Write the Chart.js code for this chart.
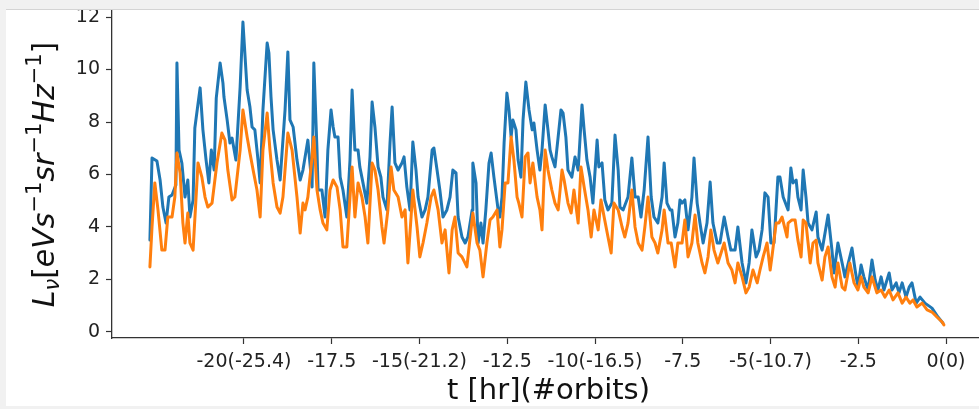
<!DOCTYPE html>
<html>
<head>
<meta charset="utf-8">
<title>Luminosity vs time</title>
<script src="https://cdn.jsdelivr.net/npm/chart.js@4.4.1/dist/chart.umd.min.js"></script>
<style>
  html, body { margin: 0; padding: 0; background: #ffffff; width: 979px; height: 409px; overflow: hidden; }
  #wrap { position: relative; width: 979px; height: 409px; overflow: hidden; }
  #plot { position: absolute; left: 0; top: 0; }
  .frame { position: absolute; background: #f1f1f1; z-index: 2; }
  #frame-top { left: 0; top: 0; width: 979px; height: 10px; border-bottom: 1px solid #d4d4d4; box-sizing: border-box; }
  #frame-left { left: 0; top: 0; width: 6px; height: 409px; }
  #frame-bottom { left: 0; top: 406px; width: 979px; height: 3px; }
</style>
</head>
<body>
<div id="wrap">
  <canvas id="plot" width="990" height="409"></canvas>
  <div class="frame" id="frame-top"></div>
  <div class="frame" id="frame-left"></div>
  <div class="frame" id="frame-bottom"></div>
</div>
<script>
// Time before merger [hr] and specific luminosity, upper (blue) curve.
const blueTime = [
  -22.68, -22.62, -22.48, -22.39, -22.31, -22.22, -22.14, -22.05, -21.94, -21.91,
  -21.85, -21.77, -21.68, -21.60, -21.54, -21.45, -21.40, -21.25, -21.17, -21.08,
  -21.00, -20.93, -20.85, -20.79, -20.68, -20.60, -20.57, -20.48, -20.40, -20.34,
  -20.23, -20.11, -20.03, -19.91, -19.83, -19.77, -19.69, -19.60, -19.54, -19.46,
  -19.34, -19.29, -19.23, -19.17, -19.06, -18.97, -18.83, -18.75, -18.69, -18.60,
  -18.49, -18.40, -18.32, -18.18, -18.06, -18.01, -17.92, -17.89, -17.78, -17.69,
  -17.61, -17.52, -17.46, -17.41, -17.32, -17.26, -17.18, -17.07, -16.98, -16.92,
  -16.84, -16.75, -16.70, -16.61, -16.50, -16.41, -16.35, -16.27, -16.18, -16.10,
  -16.04, -15.93, -15.84, -15.78, -15.70, -15.61, -15.50, -15.44, -15.36, -15.27,
  -15.19, -15.10, -15.04, -14.93, -14.84, -14.76, -14.64, -14.59, -14.50, -14.42,
  -14.33, -14.22, -14.13, -14.05, -13.96, -13.90, -13.79, -13.70, -13.62, -13.50,
  -13.48, -13.39, -13.33, -13.25, -13.19, -13.11, -13.02, -12.96, -12.88, -12.76,
  -12.71, -12.65, -12.59, -12.51, -12.45, -12.39, -12.34, -12.25, -12.19, -12.11,
  -12.05, -11.97, -11.88, -11.79, -11.74, -11.65, -11.57, -11.51, -11.42, -11.34,
  -11.28, -11.23, -11.14, -11.05, -10.97, -10.91, -10.83, -10.77, -10.66, -10.57,
  -10.48, -10.37, -10.31, -10.23, -10.14, -10.06, -9.94, -9.89, -9.80, -9.72,
  -9.63, -9.52, -9.43, -9.34, -9.29, -9.20, -9.06, -8.95, -8.86, -8.77,
  -8.69, -8.60, -8.49, -8.40, -8.32, -8.21, -8.09, -8.03, -7.95, -7.86,
  -7.81, -7.72, -7.64, -7.58, -7.52, -7.44, -7.35, -7.24, -7.18, -7.09,
  -7.01, -6.92, -6.81, -6.72, -6.64, -6.52, -6.44, -6.32, -6.21, -6.13,
  -6.01, -5.93, -5.81, -5.70, -5.61, -5.53, -5.41, -5.33, -5.24, -5.16,
  -5.07, -4.99, -4.90, -4.79, -4.73, -4.64, -4.50, -4.42, -4.36, -4.27,
  -4.22, -4.13, -4.07, -3.99, -3.93, -3.82, -3.70, -3.65, -3.53, -3.36,
  -3.25, -3.19, -3.08, -2.96, -2.88, -2.68, -2.59, -2.51, -2.42, -2.34,
  -2.22, -2.11, -2.02, -1.94, -1.85, -1.77, -1.62, -1.54, -1.42, -1.34,
  -1.25, -1.14, -1.05, -0.97, -0.85, -0.74, -0.60, -0.40, -0.23, -0.09
];
const blueLum = [
  3.50, 6.63, 6.51, 5.79, 4.76, 4.15, 5.14, 5.22, 5.60, 10.25,
  6.93, 6.44, 5.14, 5.79, 4.38, 5.03, 7.77, 9.30, 7.70, 6.55,
  5.68, 6.93, 6.17, 8.91, 10.25, 9.49, 8.95, 8.08, 7.20, 7.39,
  6.55, 9.33, 11.81, 9.22, 8.57, 7.81, 7.70, 6.55, 5.68, 8.46,
  11.01, 10.63, 8.95, 7.70, 6.55, 5.79, 8.46, 10.67, 8.08, 7.81,
  6.55, 5.79, 6.17, 7.31, 5.52, 10.25, 6.93, 5.41, 5.41, 4.38,
  6.93, 8.46, 7.81, 7.43, 7.43, 5.90, 5.41, 4.38, 6.55, 9.22,
  6.93, 6.93, 6.29, 5.68, 4.91, 6.67, 8.76, 7.81, 6.29, 5.90,
  5.14, 4.65, 7.20, 8.57, 6.44, 6.17, 6.44, 6.67, 5.52, 4.65,
  7.24, 6.17, 5.14, 4.38, 4.65, 5.14, 6.93, 7.01, 6.17, 5.41,
  4.38, 4.65, 5.14, 6.17, 6.06, 4.38, 3.62, 3.39, 3.62, 4.65,
  6.44, 5.68, 3.39, 4.15, 3.39, 4.65, 6.44, 6.82, 5.90, 4.65,
  4.38, 5.14, 7.20, 9.10, 8.46, 7.43, 8.08, 7.70, 6.55, 5.90,
  8.08, 9.52, 8.46, 7.70, 7.96, 6.93, 6.17, 6.93, 8.65, 7.70,
  6.93, 6.67, 6.29, 7.43, 8.46, 8.34, 7.43, 6.17, 5.90, 6.67,
  6.17, 8.65, 7.70, 6.55, 5.90, 4.91, 7.31, 6.29, 6.44, 5.03,
  4.65, 4.91, 7.50, 6.17, 4.76, 4.65, 5.14, 6.63, 5.14, 5.14,
  4.38, 5.41, 7.43, 5.14, 4.38, 4.15, 5.14, 6.44, 4.91, 4.65,
  4.65, 3.62, 4.15, 5.03, 4.91, 5.03, 3.89, 5.14, 6.63, 4.91,
  4.15, 3.39, 4.15, 5.71, 4.15, 3.39, 3.39, 4.38, 3.62, 3.12,
  3.12, 4.00, 2.63, 1.87, 2.63, 3.89, 2.86, 3.12, 3.89, 5.30,
  5.14, 3.39, 3.39, 5.90, 5.90, 5.14, 4.65, 6.25, 5.68, 5.79,
  5.14, 4.65, 6.17, 5.14, 4.15, 3.89, 4.57, 3.62, 3.12, 4.46,
  3.12, 2.25, 3.39, 2.63, 2.10, 3.20, 2.36, 1.71, 2.55, 2.10,
  1.60, 2.74, 1.98, 1.60, 2.10, 1.60, 2.25, 1.60, 1.87, 1.49,
  1.87, 1.33, 1.71, 1.87, 1.10, 1.33, 1.10, 0.91, 0.57, 0.34
];

// Lower (orange) curve.
const orangeTime = [
  -22.68, -22.62, -22.54, -22.45, -22.34, -22.25, -22.17, -22.05, -21.97, -21.91,
  -21.82, -21.74, -21.68, -21.60, -21.54, -21.45, -21.31, -21.20, -21.11, -21.03,
  -20.91, -20.77, -20.63, -20.54, -20.46, -20.34, -20.26, -20.11, -20.03, -19.91,
  -19.83, -19.74, -19.63, -19.54, -19.46, -19.34, -19.26, -19.17, -19.06, -18.97,
  -18.89, -18.75, -18.63, -18.49, -18.40, -18.32, -18.26, -18.18, -18.06, -18.01,
  -17.92, -17.83, -17.75, -17.64, -17.55, -17.46, -17.35, -17.26, -17.18, -17.07,
  -16.98, -16.92, -16.84, -16.75, -16.64, -16.55, -16.47, -16.35, -16.27, -16.18,
  -16.07, -16.01, -15.90, -15.81, -15.73, -15.61, -15.50, -15.41, -15.33, -15.24,
  -15.19, -15.07, -14.99, -14.90, -14.79, -14.67, -14.59, -14.47, -14.36, -14.27,
  -14.16, -14.07, -13.99, -13.90, -13.79, -13.65, -13.48, -13.36, -13.28, -13.19,
  -13.08, -12.99, -12.91, -12.79, -12.71, -12.65, -12.56, -12.48, -12.39, -12.31,
  -12.22, -12.17, -12.08, -11.99, -11.91, -11.85, -11.77, -11.65, -11.57, -11.51,
  -11.42, -11.34, -11.23, -11.14, -11.05, -10.94, -10.88, -10.77, -10.68, -10.60,
  -10.48, -10.40, -10.31, -10.20, -10.11, -10.03, -9.91, -9.83, -9.74, -9.63,
  -9.54, -9.46, -9.34, -9.23, -9.15, -9.06, -8.95, -8.86, -8.77, -8.66,
  -8.58, -8.49, -8.38, -8.29, -8.21, -8.09, -8.03, -7.92, -7.83, -7.72,
  -7.64, -7.52, -7.44, -7.35, -7.24, -7.15, -7.07, -6.95, -6.87, -6.78,
  -6.70, -6.61, -6.50, -6.41, -6.32, -6.21, -6.10, -6.01, -5.93, -5.81,
  -5.70, -5.61, -5.50, -5.38, -5.30, -5.21, -5.10, -5.01, -4.96, -4.84,
  -4.76, -4.67, -4.53, -4.50, -4.39, -4.30, -4.22, -4.13, -4.07, -3.99,
  -3.93, -3.87, -3.79, -3.70, -3.65, -3.53, -3.45, -3.36, -3.25, -3.16,
  -3.08, -2.96, -2.88, -2.74, -2.62, -2.51, -2.42, -2.34, -2.22, -2.11,
  -1.97, -1.85, -1.74, -1.62, -1.51, -1.37, -1.25, -1.14, -1.03, -0.94,
  -0.83, -0.68, -0.54, -0.40, -0.26, -0.11, -0.06
];
const orangeLum = [
  2.48, 4.00, 5.68, 4.65, 3.12, 3.12, 4.38, 4.38, 5.14, 6.82,
  6.06, 4.15, 3.39, 4.53, 3.39, 3.12, 6.44, 5.90, 5.14, 4.76,
  4.91, 6.44, 7.58, 7.31, 6.17, 5.03, 5.14, 6.93, 8.46, 7.43,
  6.82, 6.17, 5.41, 4.38, 6.93, 8.34, 6.93, 5.68, 4.76, 4.53,
  5.14, 7.58, 6.93, 5.14, 3.77, 4.91, 4.65, 5.14, 6.67, 7.43,
  5.41, 4.65, 4.15, 3.89, 5.41, 5.79, 5.52, 4.65, 3.24, 3.24,
  5.14, 6.29, 4.38, 5.68, 5.14, 4.38, 3.39, 6.44, 6.17, 5.41,
  4.00, 3.39, 4.65, 6.29, 5.41, 5.14, 4.38, 4.65, 2.63, 4.38,
  5.41, 4.00, 2.86, 3.39, 4.15, 5.14, 5.41, 4.65, 3.39, 3.89,
  2.25, 3.89, 4.38, 3.01, 2.86, 2.48, 4.53, 3.39, 3.12, 2.10,
  3.39, 4.27, 4.38, 4.65, 3.24, 3.89, 5.68, 5.68, 7.43, 6.55,
  5.14, 4.91, 4.38, 6.67, 6.82, 5.68, 6.44, 5.14, 4.65, 3.89,
  6.93, 6.17, 5.41, 4.91, 4.65, 6.17, 5.79, 4.91, 4.53, 5.41,
  4.15, 6.29, 5.52, 4.65, 3.62, 4.65, 3.89, 5.03, 4.38, 3.62,
  3.01, 4.91, 4.65, 4.00, 3.62, 4.15, 5.41, 4.00, 3.39, 3.12,
  4.00, 5.14, 3.62, 3.39, 3.01, 3.89, 4.65, 3.39, 3.39, 2.48,
  3.39, 3.39, 4.27, 2.86, 3.39, 4.46, 3.39, 2.63, 2.25, 2.86,
  3.89, 3.12, 2.63, 3.01, 3.39, 2.63, 2.36, 1.87, 2.63, 2.10,
  1.49, 1.71, 2.36, 1.87, 2.36, 2.86, 3.39, 2.36, 2.86, 4.15,
  4.15, 4.38, 3.62, 4.15, 4.27, 4.27, 3.50, 2.86, 4.27, 4.15,
  3.39, 2.63, 3.39, 3.50, 2.63, 1.98, 2.86, 3.24, 2.10, 1.71,
  2.63, 1.71, 1.60, 2.63, 1.87, 1.60, 2.10, 1.71, 1.49, 2.10,
  1.49, 1.60, 1.33, 1.60, 1.22, 1.49, 1.10, 1.33, 1.10, 1.22,
  0.95, 1.10, 0.84, 0.76, 0.57, 0.38, 0.27
];

// Axis ticks: time in hours, with the orbit count in brackets on every other tick.
const xTickValues = [-20, -17.5, -15, -12.5, -10, -7.5, -5, -2.5, 0];
const xTickLabels = ["-20(-25.4)", "-17.5", "-15(-21.2)", "-12.5", "-10(-16.5)", "-7.5", "-5(-10.7)", "-2.5", "0(0)"];
const yTickValues = [0, 2, 4, 6, 8, 10, 12];

const BLUE = "#1f77b4";
const ORANGE = "#ff7f0e";
const AXIS = "#333333";
const TICK_FONT = { family: "DejaVu Sans", size: 19 };
const XLABEL_SIZE = 29;
const YLABEL_SIZE = 30;
const LINE_W = 3;

function toPoints(ts, ys) {
  return ts.map((t, i) => ({ x: t, y: ys[i] }));
}

// Rotated y-axis title with sub/superscripts: L_nu [eV s^-1 sr^-1 Hz^-1]
const yTitlePlugin = {
  id: "yTitle",
  afterDraw(chart) {
    const ctx = chart.ctx;
    const area = chart.chartArea;
    const big = YLABEL_SIZE;
    const small = Math.round(YLABEL_SIZE * 0.7);
    const it = (s) => `italic ${s}px "DejaVu Sans"`;
    const up = (s) => `${s}px "DejaVu Sans"`;
    const parts = [
      { t: "L", f: it(big), dy: 0 },
      { t: "\u03bd", f: it(small), dy: 5 },
      { t: "[", f: up(big), dy: 0 },
      { t: "eVs", f: it(big), dy: 0 },
      { t: "\u22121", f: up(small), dy: -13 },
      { t: "sr", f: it(big), dy: 0 },
      { t: "\u22121", f: up(small), dy: -13 },
      { t: "Hz", f: it(big), dy: 0 },
      { t: "\u22121", f: up(small), dy: -13 },
      { t: "]", f: up(big), dy: 0 },
    ];
    ctx.save();
    let total = 0;
    parts.forEach((p) => { ctx.font = p.f; p.w = ctx.measureText(p.t).width; total += p.w; });
    ctx.translate(54, (area.top + area.bottom) / 2 + 1);
    ctx.rotate(-Math.PI / 2);
    ctx.fillStyle = "#111111";
    ctx.textBaseline = "alphabetic";
    ctx.textAlign = "left";
    let x = -total / 2;
    parts.forEach((p) => {
      ctx.font = p.f;
      ctx.fillText(p.t, x, p.dy);
      x += p.w;
    });
    ctx.restore();
  },
};

new Chart(document.getElementById("plot"), {
  type: "line",
  data: {
    datasets: [
      {
        data: toPoints(blueTime, blueLum),
        borderColor: BLUE,
        backgroundColor: BLUE,
        borderWidth: LINE_W,
        pointRadius: 0,
        tension: 0,
        borderJoinStyle: "round",
        borderCapStyle: "round",
        order: 2,
      },
      {
        data: toPoints(orangeTime, orangeLum),
        borderColor: ORANGE,
        backgroundColor: ORANGE,
        borderWidth: LINE_W,
        pointRadius: 0,
        tension: 0,
        borderJoinStyle: "round",
        borderCapStyle: "round",
        order: 1,
      },
    ],
  },
  options: {
    responsive: false,
    animation: false,
    devicePixelRatio: 1,
    layout: { padding: { left: 0, top: 9, right: 5, bottom: 0 } },
    plugins: { legend: { display: false }, tooltip: { enabled: false } },
    scales: {
      x: {
        type: "linear",
        min: -23.76,
        max: 1.11,
        afterBuildTicks: (scale) => { scale.ticks = xTickValues.map((v) => ({ value: v })); },
        afterFit: (scale) => { scale.height = 71; scale.paddingLeft = 0; scale.paddingRight = 0; },
        ticks: {
          autoSkip: false,
          maxRotation: 0,
          padding: 7,
          color: "#222222",
          font: TICK_FONT,
          callback: (v) => {
            const i = xTickValues.indexOf(v);
            return i >= 0 ? xTickLabels[i] : "";
          },
        },
        grid: { drawOnChartArea: false, drawTicks: true, tickLength: 6, tickColor: AXIS, tickWidth: 1.2 },
        border: { display: true, color: AXIS, width: 1.3 },
        title: {
          display: true,
          text: "t [hr](#orbits)",
          color: "#111111",
          font: { family: "DejaVu Sans", size: XLABEL_SIZE },
          padding: { top: 0, bottom: 0 },
        },
      },
      y: {
        type: "linear",
        min: -0.229,
        max: 12.305,
        afterBuildTicks: (scale) => { scale.ticks = yTickValues.map((v) => ({ value: v })); },
        afterFit: (scale) => { scale.width = 112; scale.paddingTop = 0; scale.paddingBottom = 0; },
        ticks: { padding: 6, color: "#222222", font: TICK_FONT },
        grid: { drawOnChartArea: false, drawTicks: true, tickLength: 6, tickColor: AXIS, tickWidth: 1.2 },
        border: { display: true, color: AXIS, width: 1.3 },
      },
    },
  },
  plugins: [yTitlePlugin],
});
</script>
</body>
</html>
